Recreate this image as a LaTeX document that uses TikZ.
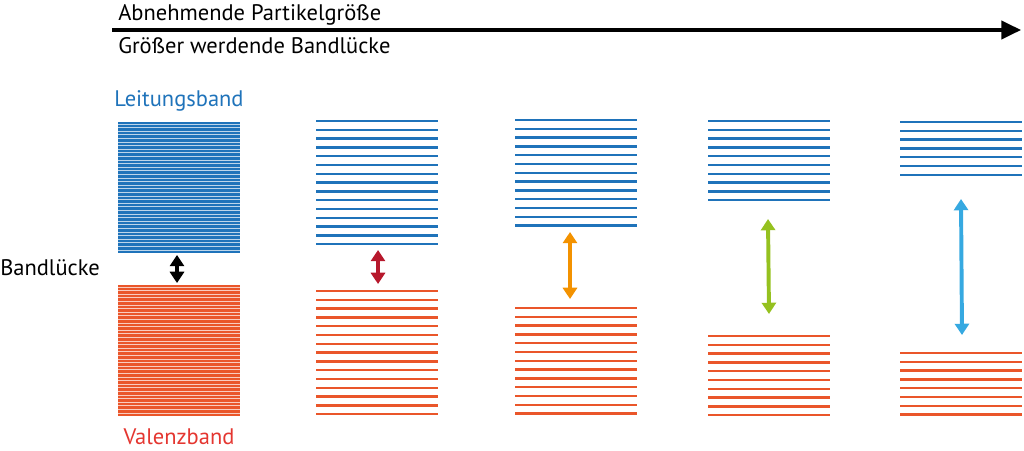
\documentclass[tikz,border=0pt]{standalone}
\usepackage{fontspec}
\setmainfont{PT Sans}
\usetikzlibrary{arrows.meta}
\definecolor{lbblue}{RGB}{31,115,186}
\definecolor{vbred}{RGB}{234,86,42}
\definecolor{vbtext}{RGB}{228,54,48}
\definecolor{gapred}{RGB}{183,24,44}
\definecolor{gaporange}{RGB}{243,146,0}
\definecolor{gapgreen}{RGB}{149,193,31}
\definecolor{gapcyan}{RGB}{54,169,225}
\tikzset{
	level/.style = {line width=1.8pt},
	gap/.style = {line width=2.8pt, {Triangle[length=8pt,width=10pt]}-{Triangle[length=8pt,width=10pt]}},
	lbl/.style = {font=\fontsize{16}{19}\selectfont, inner sep=0pt}
}
\begin{document}
\begin{tikzpicture}[x=0.025cm, y=-0.025cm]
		\useasboundingbox (0,0) rectangle (1024,451);

		% Groesse
		\coordinate (start) at (112,30);
		\coordinate (end) at (1021,30);
		\draw [line width=2.4pt, -{Triangle[length=14pt,width=13pt]}] (start) -- (end);
		\node [lbl, anchor=base west] (size) at (118,21) {Abnehmende Partikelgröße};
		\node [lbl, anchor=base west] (gaptext) at (118,54) {Größer werdende Bandlücke};

		% Festkoerper
		\fill [lbblue] (118,122) rectangle (240,253);
		\fill [vbred] (118,285) rectangle (240,416);
		\foreach \y in {0,...,35} {
			\draw [white!70!lbblue, line width=0.5pt] (118,{124+\y*3.6}) -- (240,{124+\y*3.6});
			\draw [white!70!vbred, line width=0.5pt] (118,{287+\y*3.6}) -- (240,{287+\y*3.6});
		}
		\node [lbl, text=lbblue, anchor=base] (lb) at (179,107) {Leitungsband};
		\node [lbl, text=vbtext, anchor=base] (vb) at (179,444) {Valenzband};
		\node [lbl, anchor=base west] (bl) at (0,276) {Bandlücke};
		\coordinate (g1a) at (177,255);
		\coordinate (g1b) at (177,283);
		\draw [gap, black] (g1a) -- (g1b);

		% Partikel: x links, Anzahl Linien LB, y oben LB, y oben VB, Anzahl Linien VB
		\foreach \x/\n/\lb/\vb/\m [count=\i] in {316/15/121/291/15, 515/13/120/308/13, 708/10/121/336/10, 900/7/122/353/8} {
			\foreach \k in {1,...,\n}
				\draw [level, lbblue] (\x,{\lb+(\k-1)*8.8}) -- (\x+122,{\lb+(\k-1)*8.8});
			\foreach \k in {1,...,\m}
				\draw [level, vbred] (\x,{\vb+(\k-1)*8.8}) -- (\x+122,{\vb+(\k-1)*8.8});
		}

		\coordinate (g2a) at (378,250);
		\coordinate (g2b) at (378,284);
		\coordinate (g3a) at (570,232);
		\coordinate (g3b) at (570,299);
		\coordinate (g4a) at (768,219);
		\coordinate (g4b) at (769,314);
		\coordinate (g5a) at (961,199);
		\coordinate (g5b) at (962,335);
		\draw [gap, gapred] (g2a) -- (g2b);
		\draw [gap, gaporange] (g3a) -- (g3b);
		\draw [gap, gapgreen] (g4a) -- (g4b);
		\draw [gap, gapcyan] (g5a) -- (g5b);

	\end{tikzpicture}
\end{document}
